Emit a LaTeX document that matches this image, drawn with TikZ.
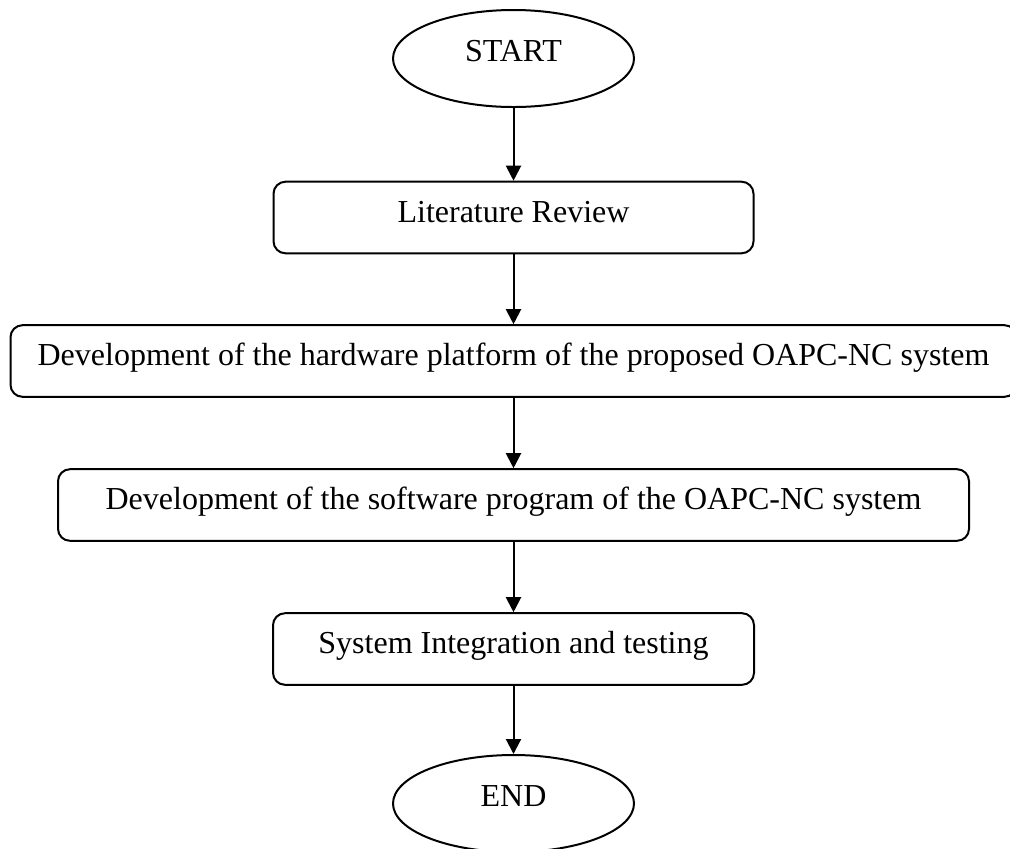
\documentclass[tikz,border=0pt]{standalone}
\usepackage{fontspec}
\setmainfont{Liberation Serif}
\usetikzlibrary{arrows.meta,shapes.geometric}
\begin{document}
\begin{tikzpicture}[x=0.5pt,y=-0.5pt,
  every node/.style={font=\fontsize{16}{19}\selectfont, inner sep=0pt,
    text height=0.7em, text depth=0.25em},
  terminal/.style={draw, line width=1pt, ellipse,
    minimum width=120.5pt, minimum height=48.5pt, text depth=0.38em},
  process/.style={draw, line width=1pt, rectangle, rounded corners=6pt,
    minimum height=35.8pt},
  flow/.style={draw, line width=1pt, -{Triangle[length=7.5pt,width=7.5pt]}}]

  \useasboundingbox (0,0) rectangle (1010,848);

  % flowchart steps
  \node[terminal] (start) at (513.5,58.5) {START};
  \node[process, minimum width=240pt]   (lit)  at (513.5,217.5) {Literature Review};
  \node[process, minimum width=503pt]   (hw)   at (513.5,361)   {Development of the hardware platform of the proposed OAPC-NC system};
  \node[process, minimum width=455.5pt] (sw)   at (513.5,505)   {Development of the software program of the OAPC-NC system};
  \node[process, minimum width=240.5pt] (sys)  at (513.5,649)   {System Integration and testing};
  \node[terminal] (end) at (513.5,803.5) {END};

  % connectors
  \draw[flow] (start) -- (lit);
  \draw[flow] (lit) -- (hw);
  \draw[flow] (hw) -- (sw);
  \draw[flow] (sw) -- (sys);
  \draw[flow] (sys) -- (end);
\end{tikzpicture}
\end{document}
